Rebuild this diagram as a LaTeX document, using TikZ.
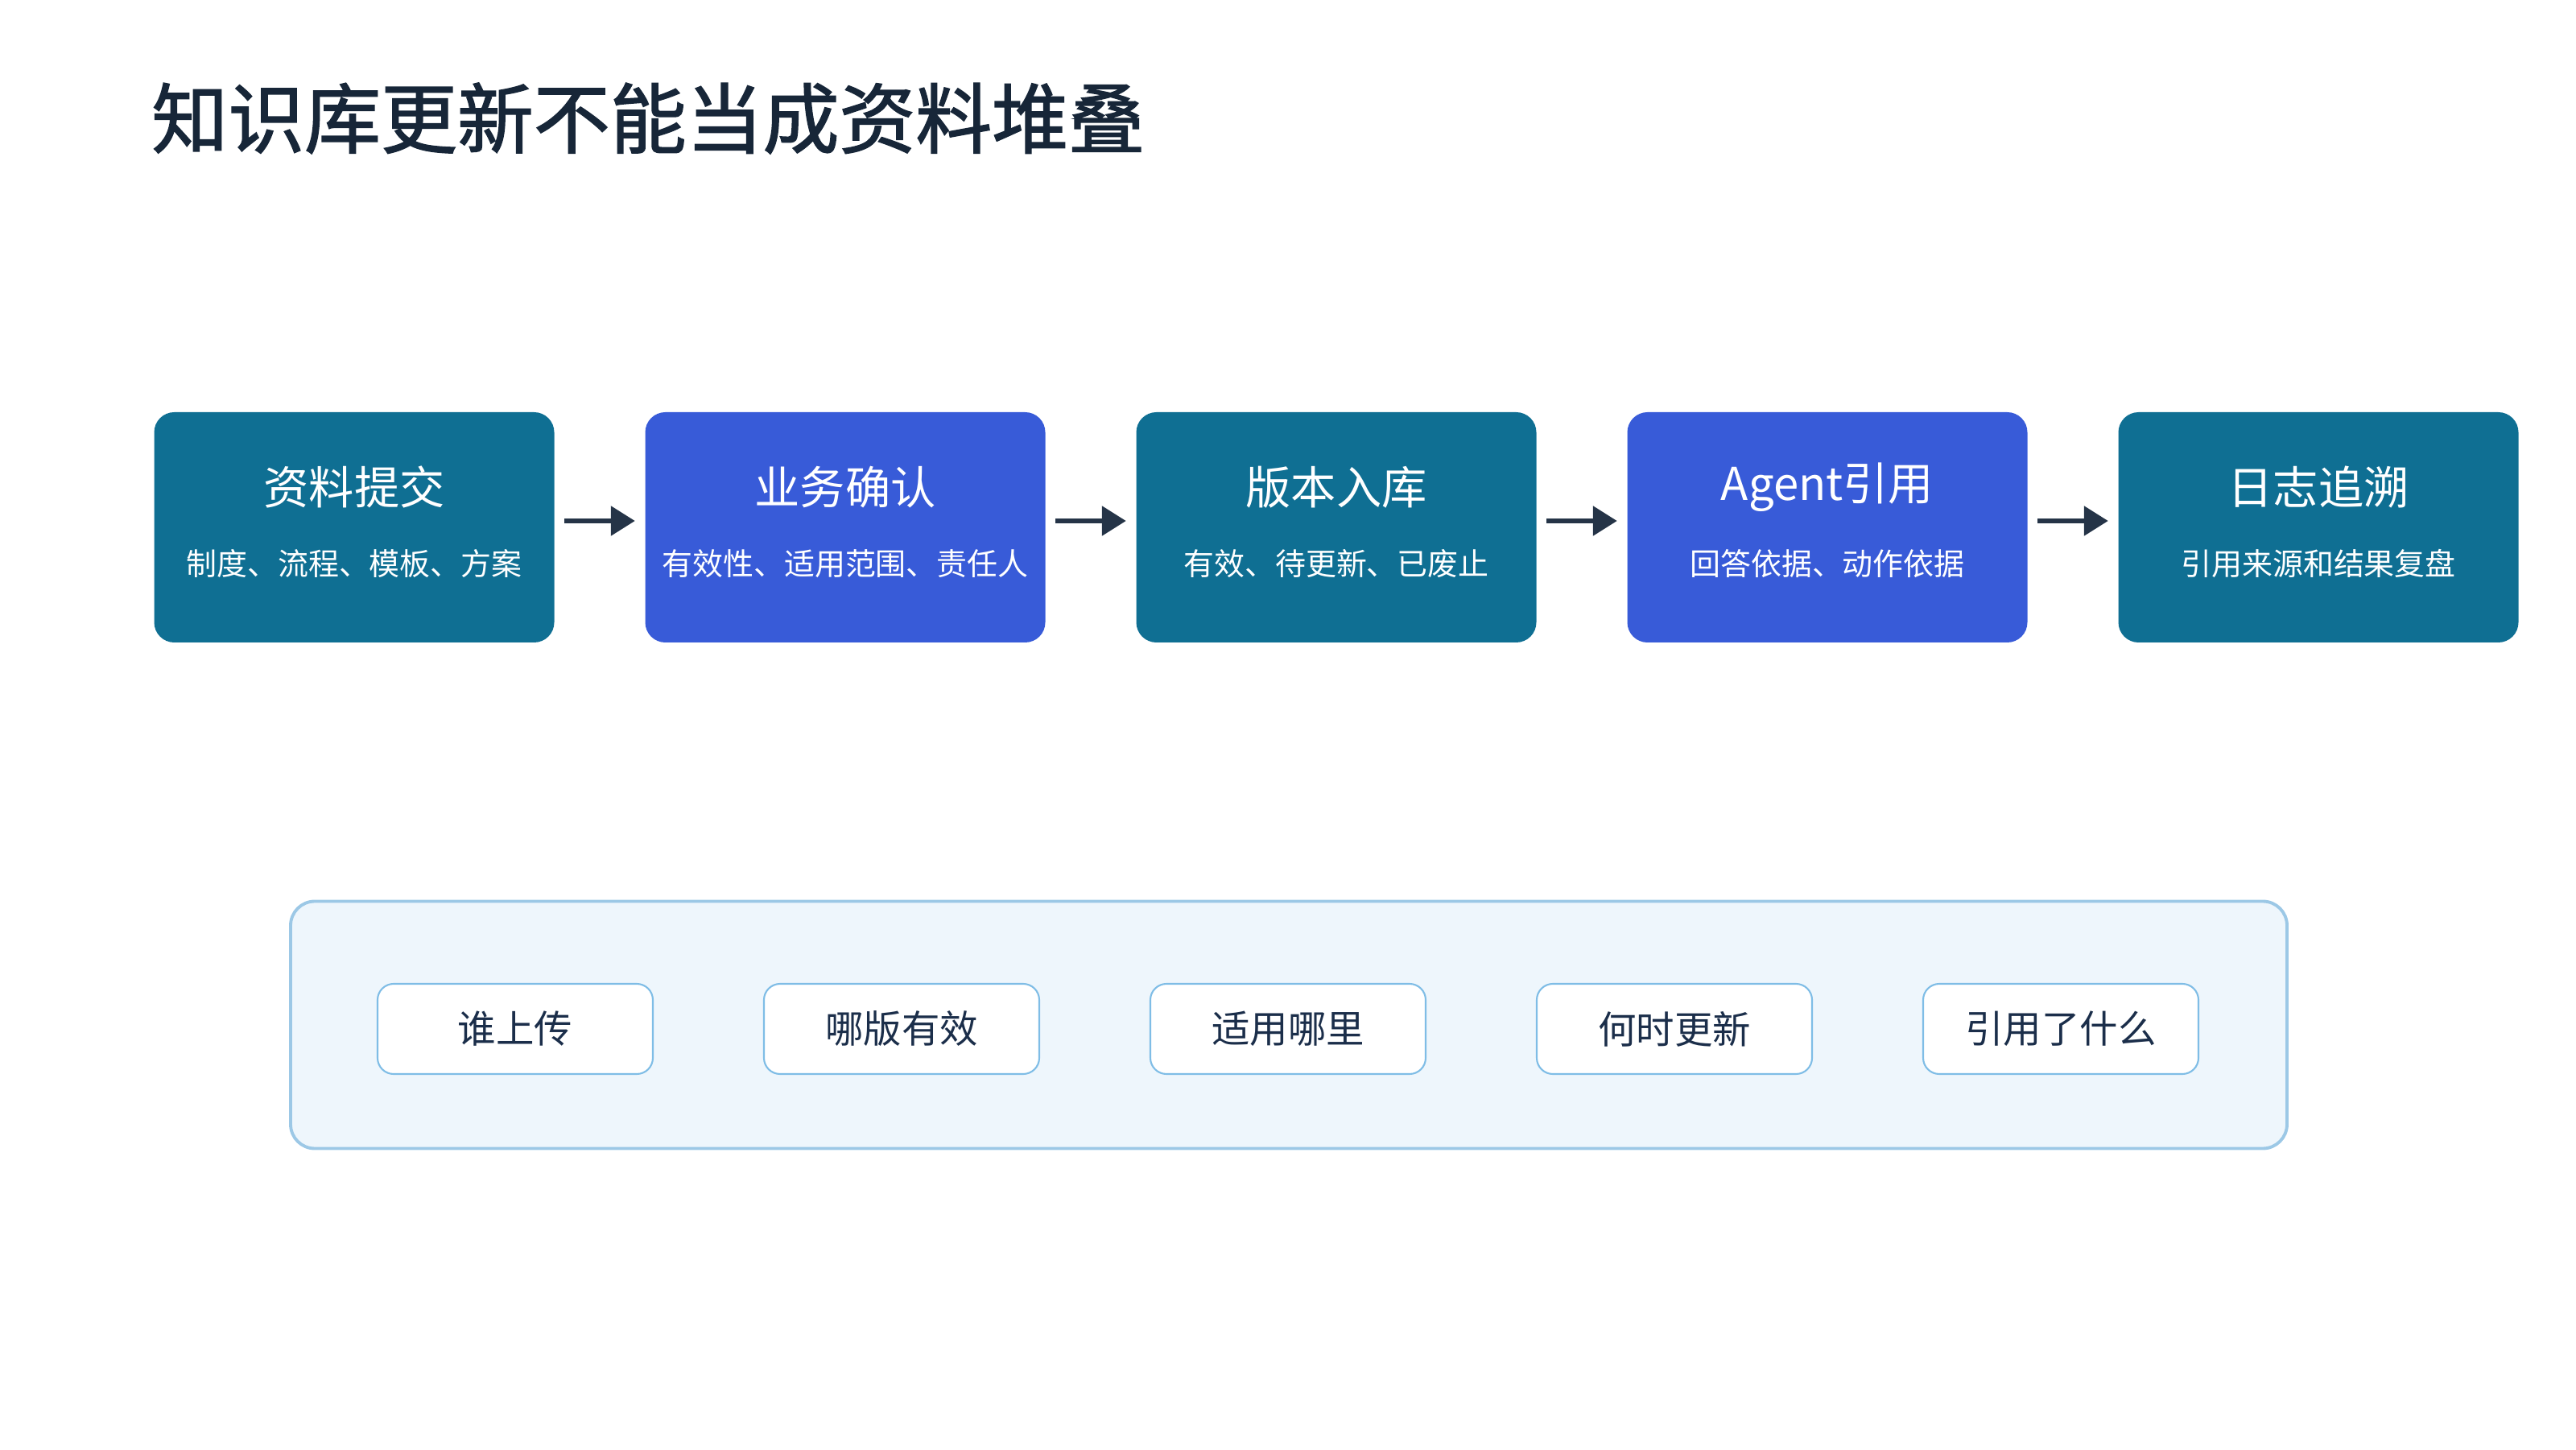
\documentclass[tikz,border=0pt]{standalone}
\usepackage{fontspec}
\setmainfont{Noto Sans CJK SC}
\newfontfamily\headfont[FakeBold=1.6]{Noto Sans CJK SC}
\usepackage{tikz}
\usetikzlibrary{arrows.meta,calc}

\definecolor{titleink}{HTML}{172638}
\definecolor{tealbox}{HTML}{0F6F93}
\definecolor{bluebox}{HTML}{385BD8}
\definecolor{arrowink}{HTML}{253447}
\definecolor{panelfill}{HTML}{EEF6FC}
\definecolor{panelline}{HTML}{9CC8E6}
\definecolor{tagline}{HTML}{7FBDE6}
\definecolor{tagink}{HTML}{1B2E4A}

\tikzset{
	stagebox/.style={rounded corners=0.25cm, minimum width=4.97cm, minimum height=2.86cm, inner sep=0pt},
	stagetitle/.style={text=white, font=\fontsize{16pt}{19pt}\selectfont},
	stagenote/.style={text=white, font=\fontsize{10.8pt}{13pt}\selectfont},
	flowarrow/.style={draw=arrowink, line width=1.6pt, -{Triangle[length=0.3cm, width=0.36cm]}, shorten <=0.12cm, shorten >=0.12cm},
	tagbox/.style={draw=tagline, line width=0.6pt, fill=white, rounded corners=0.2cm, minimum width=3.42cm, minimum height=1.12cm, text=tagink, font=\fontsize{13.5pt}{16pt}\selectfont}
}

\begin{document}
\begin{tikzpicture}
		\useasboundingbox (0,0) rectangle (32,18);
		\node[anchor=west, text=titleink, font=\headfont\fontsize{27pt}{32pt}\selectfont] (Title) at (1.76,16.53) {知识库更新不能当成资料堆叠};

		% stages
		\node[stagebox, fill=tealbox] (Submit) at (4.40,11.45) {};
		\node[stagetitle] (SubmitT) at ($(Submit) + (0,0.50)$) {资料提交};
		\node[stagenote] (SubmitN) at ($(Submit) + (0,-0.45)$) {制度、流程、模板、方案};

		\node[stagebox, fill=bluebox] (Confirm) at (10.50,11.45) {};
		\node[stagetitle] (ConfirmT) at ($(Confirm) + (0,0.50)$) {业务确认};
		\node[stagenote] (ConfirmN) at ($(Confirm) + (0,-0.45)$) {有效性、适用范围、责任人};

		\node[stagebox, fill=tealbox] (Version) at (16.60,11.45) {};
		\node[stagetitle] (VersionT) at ($(Version) + (0,0.50)$) {版本入库};
		\node[stagenote] (VersionN) at ($(Version) + (0,-0.45)$) {有效、待更新、已废止};

		\node[stagebox, fill=bluebox] (Cite) at (22.70,11.45) {};
		\node[stagetitle] (CiteT) at ($(Cite) + (0,0.50)$) {Agent引用};
		\node[stagenote] (CiteN) at ($(Cite) + (0,-0.45)$) {回答依据、动作依据};

		\node[stagebox, fill=tealbox] (Trace) at (28.80,11.45) {};
		\node[stagetitle] (TraceT) at ($(Trace) + (0,0.50)$) {日志追溯};
		\node[stagenote] (TraceN) at ($(Trace) + (0,-0.45)$) {引用来源和结果复盘};

		\draw[flowarrow] ([yshift=0.08cm]Submit.east) -- ([yshift=0.08cm]Confirm.west);
		\draw[flowarrow] ([yshift=0.08cm]Confirm.east) -- ([yshift=0.08cm]Version.west);
		\draw[flowarrow] ([yshift=0.08cm]Version.east) -- ([yshift=0.08cm]Cite.west);
		\draw[flowarrow] ([yshift=0.08cm]Cite.east) -- ([yshift=0.08cm]Trace.west);

		% questions panel
		\node[draw=panelline, line width=1.1pt, fill=panelfill, rounded corners=0.3cm, minimum width=24.8cm, minimum height=3.07cm] (Panel) at (16.01,5.27) {};
		\node[tagbox] (Who) at (6.40,5.22) {谁上传};
		\node[tagbox] (Which) at (11.20,5.22) {哪版有效};
		\node[tagbox] (Where) at (16.00,5.22) {适用哪里};
		\node[tagbox] (When) at (20.80,5.22) {何时更新};
		\node[tagbox] (What) at (25.60,5.22) {引用了什么};
\end{tikzpicture}
\end{document}
